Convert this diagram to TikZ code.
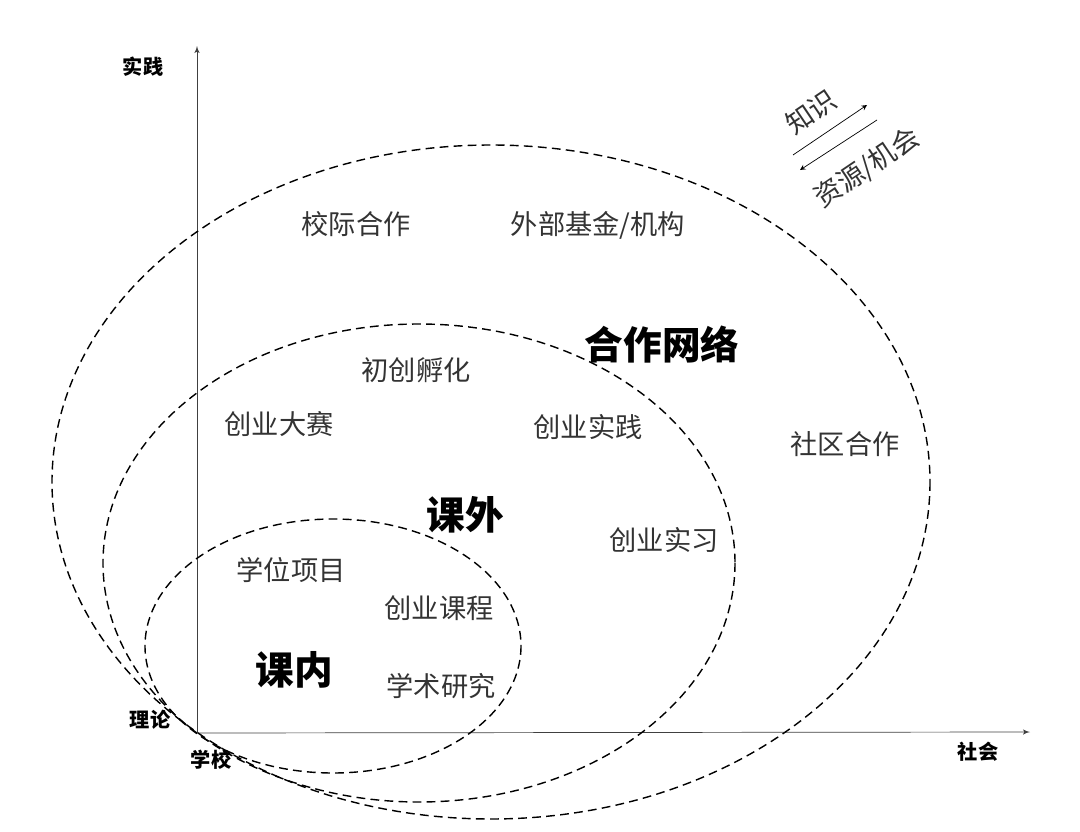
\documentclass[tikz,border=0pt]{standalone}
\usepackage{fontspec}
\setmainfont{Noto Sans CJK SC}
\usetikzlibrary{arrows}
\tikzset{
  lbl/.style={font=\fontsize{15.5}{18}\selectfont, text=black!80},
  big/.style={font=\fontsize{22}{26}\selectfont\bfseries},
  axlbl/.style={font=\fontsize{11.5}{14}\selectfont\bfseries},
  ring/.style={thick, dashed, dash pattern=on 5pt off 3pt}
}
\tikzstyle{axis} = [thin,black!75,->,>=latex']
\tikzstyle{flow} = [thin,black,->,>=stealth]

\begin{document}
\begin{tikzpicture}[x=0.02cm,y=-0.02cm]
    \useasboundingbox (0,0) rectangle (1080,832);
    % axes
    \coordinate (o) at (197,733);
    \coordinate (top) at (197,46);
    \coordinate (right) at (1030,732);
    \draw [axis] (o) -- (top);
    \draw [axis] (o) -- (right);
    \node [axlbl] (pr) at (143,67) {实践};
    \node [axlbl] (th) at (150,720) {理论};
    \node [axlbl] (sc) at (211,760) {学校};
    \node [axlbl] (so) at (978,752) {社会};

    % rings
    \draw [ring] (491,482) ellipse [x radius=439, y radius=337];
    \draw [ring] (419,563) ellipse [x radius=316, y radius=239];
    \draw [ring] (333,646) ellipse [x radius=188, y radius=127];

    % texts
    \node [lbl] (xj) at (356,224) {校际合作};
    \node [lbl] (wb) at (598,225) {外部基金/机构};
    \node [big] (hz) at (662,345) {合作网络};
    \node [lbl] (cc) at (416,370) {初创孵化};
    \node [lbl] (ds) at (279,424) {创业大赛};
    \node [lbl] (sj) at (588,427) {创业实践};
    \node [lbl] (sq) at (845,444) {社区合作};
    \node [big] (kw) at (465,515) {课外};
    \node [lbl] (sx) at (664,540) {创业实习};
    \node [lbl] (xw) at (291,570) {学位项目};
    \node [lbl] (kc) at (439,608) {创业课程};
    \node [big] (kn) at (294,670) {课内};
    \node [lbl] (xs) at (441,686) {学术研究};

    % exchange arrows
    \coordinate (a1) at (793,155);
    \coordinate (a2) at (867,105);
    \coordinate (b1) at (877,120);
    \coordinate (b2) at (800,170);
    \draw [flow] (a1) -- (a2);
    \draw [flow] (b1) -- (b2);
    \node [lbl, rotate=34, inner sep=0pt] (zs) at (811,112) {知识};
    \node [lbl, rotate=34, inner sep=0pt] (zy) at (867,168) {资源/机会};
\end{tikzpicture}
\end{document}
